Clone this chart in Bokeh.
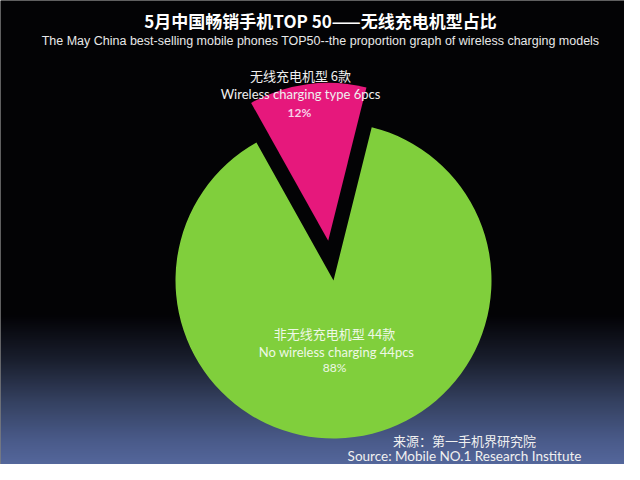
import numpy as np
from bokeh.plotting import figure
from bokeh.core.properties import value
from bokeh.embed import file_html
from bokeh.resources import INLINE

# data
categories = ["无线充电机型", "非无线充电机型"]
categories_en = ["Wireless charging type", "No wireless charging"]
counts = [6, 44]
total = sum(counts)

W, H = 624, 464
p = figure(width=W, height=H, x_range=(0, 624), y_range=(16, 480),
           output_backend="svg", toolbar_location=None, tools="",
           min_border=0, outline_line_color=None)
p.axis.visible = False
p.grid.grid_line_color = None
p.background_fill_color = "black"
p.border_fill_color = "black"

# background gradient (black top, steel blue bottom)
stops_y = [0, 315, 360, 400, 440, 480]
stops_c = [(3, 3, 5), (3, 3, 6), (26, 31, 46), (52, 64, 95), (74, 91, 138), (92, 112, 168)]
rows = 240
img = np.zeros((rows, 1), dtype=np.uint32)
view = img.view(dtype=np.uint8).reshape((rows, 1, 4))
for i in range(rows):
    yy = 480 - (i + 0.5) * 480 / rows  # image y of this row (row 0 at bottom)
    for ch in range(3):
        view[i, 0, ch] = int(np.interp(yy, stops_y, [c[ch] for c in stops_c]))
    view[i, 0, 3] = 255
p.image_rgba(image=[img], x=0, y=0, dw=640, dh=480)

# pie
cx, cy, r = 333, 200, 158
start = np.deg2rad(76)
colors = ["#e6187c", "#80cf3c"]
explode = [40, 0]
ang = start
for cnt, col, ex in zip(counts, colors, explode):
    span = cnt / total * 2 * np.pi
    mid = ang + span / 2
    ox, oy = ex * np.cos(mid), ex * np.sin(mid)
    p.wedge(x=cx + ox, y=cy + oy, radius=r, start_angle=ang, end_angle=ang + span,
            fill_color=col, line_color=None)
    ang += span

cjk = value("Noto Sans CJK SC")
lat = value("Lato")

def txt(x, y, s, size, font, color="white", style="normal"):
    p.text(x=[x], y=[480 - y], text=[s], text_font=font, text_font_size=size,
           text_color=color, text_align="center", text_baseline="middle",
           text_font_style=style)

# titles
txt(320, 20, "5月中国畅销手机TOP 50——无线充电机型占比", "17px", cjk, style="bold")
txt(320, 40, "The May China best-selling mobile phones TOP50--the proportion graph of wireless charging models",
    "12.5px", value("Liberation Sans"), color="#e8e8e8")

# slice labels
pcts = [round(c / total * 100) for c in counts]
txt(300, 75, f"{categories[0]} {counts[0]}款", "13px", cjk, color="#f0f0f0")
txt(300, 93, f"{categories_en[0]} {counts[0]}pcs", "13px", lat, color="#f0f0f0")
txt(299, 112, f"{pcts[0]}%", "12px", lat, color="#f8d0e8", style="bold")
txt(334, 333, f"{categories[1]} {counts[1]}款", "13px", cjk, color="#eef8e6")
txt(336, 351, f"{categories_en[1]} {counts[1]}pcs", "13px", lat, color="#eef8e6")
txt(334, 367, f"{pcts[1]}%", "12px", lat, color="#eef8e6")

# source
txt(464, 440, "来源：第一手机界研究院", "13px", cjk, color="#f0f0f0")
txt(464, 455, "Source: Mobile NO.1 Research Institute", "13.5px", lat, color="#f0f0f0")

open("out.html", "w").write(file_html(p, INLINE))
